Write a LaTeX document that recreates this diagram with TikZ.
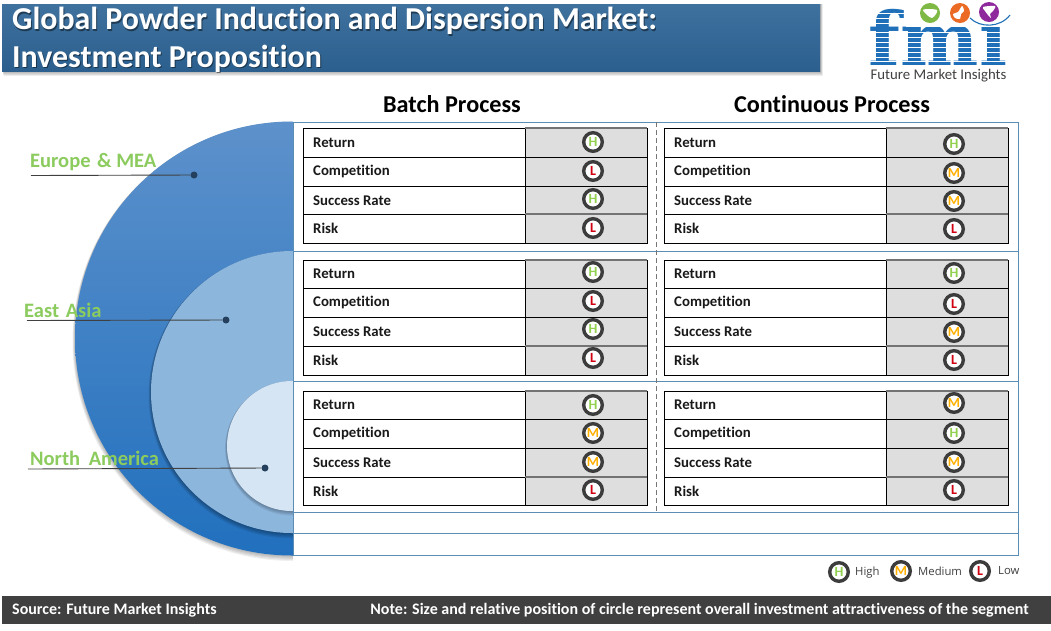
\documentclass[tikz,border=0pt]{standalone}
\usepackage{fontspec}
\setmainfont[Ligatures=NoCommon,RawFeature={-liga}]{Carlito}
\newfontfamily\legendfont{Open Sans}
\newfontfamily\logofont{DejaVu Serif}
\usetikzlibrary{calc,fadings}
\definecolor{barblue}{HTML}{2E6596}
\definecolor{framebl}{HTML}{5B8DB5}
\definecolor{ringc}{HTML}{3C3C3C}
\definecolor{cellg}{HTML}{DEDEDE}
\definecolor{hc}{HTML}{92D050}
\definecolor{mc}{HTML}{FFB000}
\definecolor{lc}{HTML}{D00010}
\definecolor{labg}{HTML}{8CCB5E}
\definecolor{foot}{HTML}{404040}
\definecolor{logob}{HTML}{1F70B8}
\definecolor{outertop}{HTML}{5D91CB}
\definecolor{outerbot}{HTML}{2170BE}
\definecolor{midc}{HTML}{8DB6DD}
\definecolor{innerc}{HTML}{D6E5F3}
\definecolor{pinc}{HTML}{24405C}
\definecolor{glob1}{HTML}{7DB944}
\definecolor{glob2}{HTML}{EB6A24}
\definecolor{glob3}{HTML}{8E2A9C}
\tikzset{
  x=1pt,y=-1pt,
  titletext/.style={anchor=west,inner sep=0pt,text=white,font=\fontsize{31.9}{32}\selectfont\bfseries},
  titleshade/.style={anchor=west,inner sep=0pt,text=black,opacity=.45,font=\fontsize{31.9}{32}\selectfont\bfseries},
  headtext/.style={inner sep=0pt,font=\fontsize{24.2}{24}\selectfont\bfseries},
  rowtext/.style={anchor=west,inner sep=0pt,font=\fontsize{14.8}{15}\selectfont\bfseries,text=black!90},
  regiontext/.style={anchor=west,inner sep=0pt,text=labg,font=\fontsize{20.5}{21}\selectfont\bfseries},
  foottext/.style={inner sep=0pt,text=white,font=\fontsize{16}{16}\selectfont\bfseries},
  legendtext/.style={anchor=west,inner sep=0pt,text=foot,font=\fontsize{11.3}{12}\legendfont},
  badge/.style={circle,draw=ringc,line width=3.4pt,fill=white,minimum size=18.6pt,inner sep=0pt,font=\fontsize{14}{14}\selectfont\bfseries},
  pin/.style={circle,fill=pinc,minimum width=7pt,minimum height=5pt,inner sep=0pt},
  pinline/.style={draw=foot,line width=.9pt},
  frameline/.style={draw=framebl,line width=1pt},
  gridline/.style={draw=black,line width=1pt},
  cellline/.style={draw=black!55,line width=1.6pt},
}
% \tblock{id}{x left}{y0}{y1}{y2}{y3}{y4}
\newcommand{\tblock}[7]{%
  \fill[cellg] (#2+222,#3) rectangle (#2+344,#7);
  \draw[gridline] (#2,#3) rectangle (#2+344,#7);
  \draw[gridline] (#2+222,#3) -- (#2+222,#7);
  \foreach \yy in {#4,#5,#6} \draw[gridline] (#2,\yy) -- (#2+344,\yy);
  \draw[cellline] (#2+222,#3) -- (#2+344,#3);
  \draw[cellline] (#2+222,#6) -- (#2+344,#6);
  \node[rowtext] (#1r) at (#2+10,{(#3+#4)/2+.2}) {Return};
  \node[rowtext] (#1c) at (#2+10,{(#4+#5)/2+.2}) {Competition};
  \node[rowtext] (#1s) at (#2+10,{(#5+#6)/2+.2}) {Success Rate};
  \node[rowtext] (#1k) at (#2+10,{(#6+#7)/2+.2}) {Risk};
}
\newcommand{\bdg}[4]{\node[badge,text=#4] (b#1#2) at (#1,#2) {#3};}
\begin{document}
\begin{tikzpicture}
\useasboundingbox (0,0) rectangle (1051,630);
\fill[white] (0,0) rectangle (1051,630);

% title bar
\foreach \i in {1,...,5}{\fill[black,opacity=.07] (2+\i*.3,4) rectangle (820+\i*.5,71+\i);}
\shade[top color=barblue!92!white,bottom color=barblue!94!black] (2,4) rectangle (820,71);
\node[titleshade] (t1s) at (13,22.5) {Global Powder Induction and Dispersion Market:};
\node[titleshade] (t2s) at (13,60) {Investment Proposition};
\node[titletext] (t1) at (12,21) {Global Powder Induction and Dispersion Market:};
\node[titletext] (t2) at (12,58.5) {Investment Proposition};

% logo
\node[inner sep=0pt,anchor=base,text=logob,font=\fontsize{74}{74}\logofont\bfseries] (fmi) at (938,65) {fmi};
\foreach \yy in {13,18,23,32,37,42,47,52,57,60.6}{\fill[white] (866,\yy) rectangle (1012,\yy+1.1);}
\fill[white] (978,0) rectangle (1014,26.5);
\fill[white] (906,0) rectangle (978,26.5);
\fill[glob1] (930,13) circle[radius=10pt];
\fill[white] plot[smooth cycle] coordinates {(923,10) (929,9) (937,10) (936,14) (932,18) (927,15)};
\fill[glob2] (960,13) circle[radius=10pt];
\fill[white] plot[smooth cycle] coordinates {(962,6) (964,11) (961,14) (960,19) (955,18) (953,14) (958,12)};
\fill[glob3] (989,12) circle[radius=10pt];
\fill[white] plot[smooth cycle] coordinates {(983,7) (995,6) (993,11) (990,14) (991,18) (988,15) (985,11)};
\draw[logob,line width=1.1pt] (970,18) .. controls (980,28) and (1000,28) .. (1010,15);
\node[inner sep=0pt,text=foot,font=\fontsize{14.8}{15}\selectfont] (fmit) at (938.5,75.5) {Future Market Insights};

% headers
\node[headtext] (hb) at (452,104.5) {Batch Process};
\node[headtext] (hcp) at (832,104.5) {Continuous Process};

% circles
\begin{scope}
\clip (0,100) rectangle (293,580);
\foreach \i in {1,...,5}{\fill[black,opacity=.06] (292,338.5+\i*.6) circle[radius=217pt+\i*.5pt];}
\shade[top color=outertop,bottom color=outerbot] (292,338.5) circle[radius=217pt];
\foreach \i in {1,...,5}{\fill[black,opacity=.07] (292,392+\i*.6) circle[radius=141pt+\i*.5pt];}
\fill[midc] (292,392) circle[radius=141pt];
\foreach \i in {1,...,5}{\fill[black,opacity=.06] (292,446+\i*.5) circle[radius=65pt+\i*.4pt];}
\fill[innerc] (292,446) circle[radius=65pt];
\end{scope}

% frame
\draw[frameline] (293,122) rectangle (1018.5,555);
\foreach \yy in {251,381,512,533.5} \draw[frameline] (293,\yy) -- (1018.5,\yy);
\draw[draw=ringc!70,line width=.8pt,dash pattern=on 5pt off 3pt] (656,122) -- (656,512);

% tables
\tblock{a}{303}{128}{157}{186}{214}{243}
\tblock{b}{303}{260}{288}{317}{346}{375}
\tblock{c}{303}{391}{419}{448}{477}{505}
\tblock{d}{664}{128}{157}{186}{214}{243}
\tblock{e}{664}{260}{288}{317}{346}{375}
\tblock{f}{664}{391}{419}{448}{477}{505}

% badges
\bdg{593}{142}{H}{hc}\bdg{593}{171}{L}{lc}\bdg{593}{199}{H}{hc}\bdg{593}{228}{L}{lc}
\bdg{593}{272}{H}{hc}\bdg{593}{301}{L}{lc}\bdg{593}{329}{H}{hc}\bdg{593}{358}{L}{lc}
\bdg{593}{405}{H}{hc}\bdg{593}{433}{M}{mc}\bdg{593}{462}{M}{mc}\bdg{593}{490}{L}{lc}
\bdg{954}{144}{H}{hc}\bdg{954}{173}{M}{mc}\bdg{954}{201}{M}{mc}\bdg{954}{229}{L}{lc}
\bdg{954}{273}{H}{hc}\bdg{954}{304}{L}{lc}\bdg{954}{332}{M}{mc}\bdg{954}{360}{L}{lc}
\bdg{954}{403}{M}{mc}\bdg{954}{433}{H}{hc}\bdg{954}{462}{M}{mc}\bdg{954}{490}{L}{lc}

% region labels
\node[regiontext] (re) at (30,162) {Europe\hspace{2pt} \& MEA};
\node[regiontext] (ra) at (24,310) {East\hspace{2pt} Asia};
\node[regiontext] (rn) at (30,458) {North\hspace{4pt} America};
\node[pin] (pe) at (194,175) {};
\node[pin] (pa) at (226,320) {};
\node[pin] (pn) at (265,468) {};
\coordinate (ce) at (31,175.5);
\coordinate (ca) at (27,320.5);
\coordinate (cn) at (28,469);
\draw[pinline] (ce) -- (pe);
\draw[pinline] (ca) -- (pa);
\draw[pinline] (cn) -- (pn);

% legend
\bdg{839}{572}{H}{hc}\node[legendtext] (lh) at (855,572.5) {High};
\bdg{901}{571}{M}{mc}\node[legendtext] (lm) at (918,571) {Medium};
\bdg{980}{571}{L}{lc}\node[legendtext] (ll) at (998,571) {Low};

% footer
\fill[foot] (2,596) rectangle (1051,624);
\node[foottext,anchor=west] (fs) at (12,610) {Source: Future Market Insights};
\node[foottext,anchor=east] (fn) at (1029,610) {Note: Size and relative position of circle represent overall investment attractiveness of the segment};
\end{tikzpicture}
\end{document}
